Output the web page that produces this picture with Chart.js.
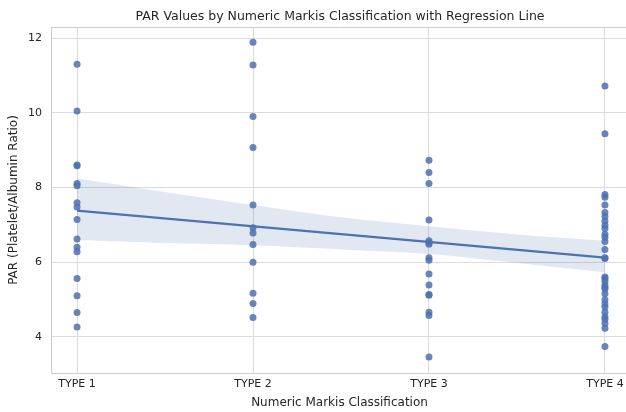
<!DOCTYPE html>
<html>
<head>
<meta charset="utf-8">
<script src="https://cdn.jsdelivr.net/npm/chart.js@4.4.1/dist/chart.umd.min.js"></script>
<style>
  html, body { margin: 0; padding: 0; background: #ffffff; overflow: hidden; }
  #wrap { width: 626px; height: 412px; position: relative; overflow: hidden; }
  #c { display: block; }
</style>
</head>
<body>
<div id="wrap"><canvas id="c" width="632" height="412"></canvas></div>
<script>
// ---- Data ----
const categories = ["TYPE 1", "TYPE 2", "TYPE 3", "TYPE 4"];
const type1Values = [11.30, 10.05, 8.60, 8.58, 8.11, 8.05, 7.59, 7.48, 7.14, 6.62, 6.40, 6.28, 5.56, 5.10, 4.65, 4.26];
const type2Values = [11.89, 11.28, 9.90, 9.07, 7.53, 6.92, 6.78, 6.47, 6.00, 5.17, 4.89, 4.52];
const type3Values = [8.73, 8.40, 8.11, 7.13, 6.57, 6.52, 6.48, 6.12, 6.05, 5.68, 5.39, 5.13, 5.11, 4.66, 4.57, 3.46];
const type4Values = [10.72, 9.44, 7.81, 7.74, 7.53, 7.33, 7.22, 7.10, 6.99, 6.90, 6.75, 6.67, 6.55, 6.34, 6.12, 6.10,
                     5.60, 5.57, 5.49, 5.39, 5.33, 5.28, 5.15, 4.99, 4.88, 4.80, 4.66, 4.54, 4.47, 4.36, 4.23, 3.74];
const regressionX = [1, 4];
const regressionY = [7.38, 6.12];
const bandX = [1, 1.5, 2, 2.5, 3, 3.5, 4];
const bandUpper = [8.24, 7.88, 7.53, 7.20, 6.96, 6.74, 6.57];
const bandLower = [6.59, 6.51, 6.45, 6.34, 6.22, 5.98, 5.73];
const yTickValues = [4, 6, 8, 10, 12];

// ---- Build library structures ----
const groups = [type1Values, type2Values, type3Values, type4Values];
const scatterPoints = [];
groups.forEach((vals, i) => vals.forEach(v => scatterPoints.push({ x: i + 1, y: v })));
const linePoints = regressionX.map((x, i) => ({ x: x, y: regressionY[i] }));
const upperPoints = bandX.map((x, i) => ({ x: x, y: bandUpper[i] }));
const lowerPoints = bandX.map((x, i) => ({ x: x, y: bandLower[i] }));

const FONT = "'DejaVu Sans', sans-serif";
const TEXT = '#262626';
const BLUE = '#4c72b0';

const framePlugin = {
  id: 'frame',
  afterDraw(chart) {
    const { ctx, chartArea: a } = chart;
    const xs = chart.scales.x;
    ctx.save();
    ctx.strokeStyle = '#cccccc';
    ctx.lineWidth = 1;
    ctx.beginPath();
    ctx.moveTo(a.left, a.top + 0.5);
    ctx.lineTo(a.right, a.top + 0.5);
    ctx.stroke();
    ctx.fillStyle = TEXT;
    ctx.font = '12.5px ' + FONT;
    ctx.textAlign = 'center';
    ctx.textBaseline = 'middle';
    ctx.fillText('PAR Values by Numeric Markis Classification with Regression Line', 340, 17);
    // category tick labels, positioned through the x scale
    ctx.font = '11px ' + FONT;
    ctx.textBaseline = 'top';
    categories.forEach((c, i) => ctx.fillText(c, xs.getPixelForValue(i + 1), a.bottom + 6));
    ctx.restore();
  }
};

new Chart(document.getElementById('c'), {
  type: 'scatter',
  data: {
    datasets: [
      {
        type: 'line', data: linePoints, borderColor: BLUE, borderWidth: 2.2,
        pointRadius: 0, fill: false, order: 0
      },
      {
        type: 'line', data: upperPoints, borderColor: 'rgba(0,0,0,0)', borderWidth: 0,
        pointRadius: 0, fill: '+1', backgroundColor: 'rgba(76,114,176,0.16)', tension: 0.3, order: 2
      },
      {
        type: 'line', data: lowerPoints, borderColor: 'rgba(0,0,0,0)', borderWidth: 0,
        pointRadius: 0, fill: false, tension: 0.3, order: 2
      },
      {
        data: scatterPoints, backgroundColor: 'rgba(76,114,176,0.85)', borderWidth: 0,
        pointRadius: 3.5, order: 1
      }
    ]
  },
  options: {
    responsive: false,
    animation: false,
    layout: { padding: { top: 27, right: 0, left: 0, bottom: 0 } },
    plugins: { legend: { display: false }, tooltip: { enabled: false }, title: { display: false } },
    scales: {
      x: {
        type: 'linear', min: 0.852, max: 4.131,
        afterBuildTicks: s => { s.ticks = categories.map((c, i) => ({ value: i + 1 })); },
        afterFit: s => { s.height = 39; },
        grid: { color: '#dcdcdc', lineWidth: 1, drawTicks: false },
        border: { color: '#cccccc' },
        ticks: { display: false },
        title: {
          display: true, text: 'Numeric Markis Classification', color: TEXT,
          font: { family: FONT, size: 12 }, padding: { top: 0, bottom: 2 }
        }
      },
      y: {
        type: 'linear', min: 3.03, max: 12.3,
        afterBuildTicks: s => { s.ticks = yTickValues.map(v => ({ value: v })); },
        afterFit: s => { s.width = 51; },
        grid: { color: '#dcdcdc', lineWidth: 1, drawTicks: false },
        border: { color: '#cccccc' },
        ticks: { color: TEXT, font: { family: FONT, size: 11 }, padding: 9 },
        title: {
          display: true, text: 'PAR (Platelet/Albumin Ratio)', color: TEXT,
          font: { family: FONT, size: 12 }, padding: { top: 7, bottom: 0 }
        }
      }
    }
  },
  plugins: [framePlugin]
});
</script>
</body>
</html>
